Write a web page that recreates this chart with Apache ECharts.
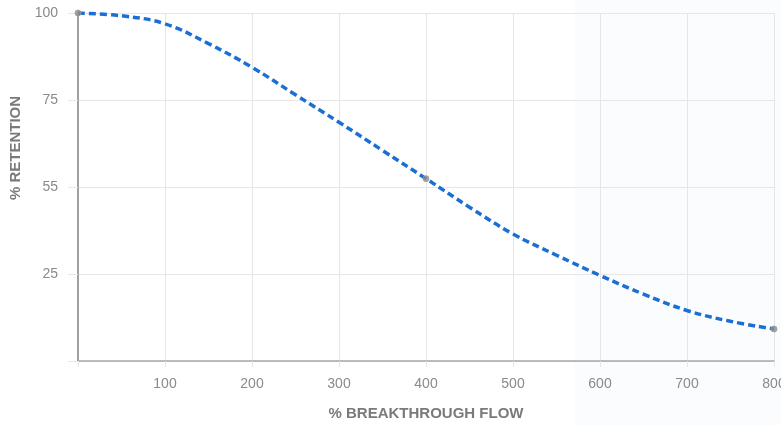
<!DOCTYPE html>
<html><head><meta charset="utf-8">
<script src="https://cdn.jsdelivr.net/npm/echarts@6/dist/echarts.min.js"></script>
<style>html,body{margin:0;padding:0;background:#fff}#c{width:781px;height:425px}</style>
</head><body><div id="c"></div>
<script>
const flow = [0,50,100,150,200,250,300,350,400,450,500,550,600,650,700,750,800];
const retention = [100,99.2,96.9,91.2,84.4,76.5,68.6,60.5,52.4,44.2,36.5,30.4,24.6,19.2,14.5,11.4,9.2];
const markerFlows = [0,400,800];
const yTickValues = [0,25,50,75,100];
const yTickLabels = ['', '25', '55', '75', '100'];
const xTickValues = [0,100,200,300,400,500,600,700,800];
const xTickLabels = ['', '100','200','300','400','500','600','700','800'];

const lineData = flow.map((f,i)=>[f, retention[i]]);
const markerData = lineData.filter(d => markerFlows.includes(d[0]));

const chart = echarts.init(document.getElementById('c'));
const font = '"Liberation Sans", Arial, sans-serif';
chart.setOption({
  animation:false,
  backgroundColor:'#fff',
  graphic:[{type:'rect', z:-10, silent:true, shape:{x:575,y:0,width:206,height:425}, style:{fill:'#fbfcfe'}}],
  grid:{left:78,right:7,top:13,bottom:64,containLabel:false,outerBoundsMode:'none'},
  xAxis:{type:'value',min:0,max:800,interval:100,
    name:'% BREAKTHROUGH FLOW',nameLocation:'middle',nameGap:45,
    nameTextStyle:{fontFamily:font,fontSize:15,fontWeight:'bold',color:'#7a7a7a'},
    axisLine:{lineStyle:{color:'#a8a8a8',width:1.5}},
    axisTick:{show:true,length:6,lineStyle:{color:'#e6e6e6'}},
    splitLine:{show:true,lineStyle:{color:'#e6e6e6',width:1}},
    axisLabel:{margin:16,fontFamily:font,fontSize:14,color:'#8a8a8a',
      formatter:v=>{const i=xTickValues.indexOf(v);return i>=0?xTickLabels[i]:'';}}
  },
  yAxis:{type:'value',min:0,max:100,interval:25,
    name:'% RETENTION',nameLocation:'middle',nameGap:53,nameRotate:90,
    nameTextStyle:{fontFamily:font,fontSize:15,fontWeight:'bold',color:'#7a7a7a',padding:[0,0,0,78]},
    axisLine:{show:true,lineStyle:{color:'#a0a0a0',width:2}},
    axisTick:{show:true,length:10,lineStyle:{color:'#e6e6e6'}},
    splitLine:{show:true,lineStyle:{color:'#e6e6e6',width:1}},
    axisLabel:{margin:20,fontFamily:font,fontSize:14,color:'#8a8a8a',
      formatter:v=>{const i=yTickValues.indexOf(v);return i>=0?yTickLabels[i]:'';}}
  },
  series:[
    {type:'line',data:lineData,smooth:0.4,symbol:'none',
     lineStyle:{color:'#1a6fd4',width:3.5,type:[7,4]}},
    {type:'scatter',data:markerData,symbolSize:6,z:5,
     itemStyle:{color:'#8c8c8c',borderColor:'#9a9a9a',borderWidth:1}}
  ]
});
</script></body></html>
